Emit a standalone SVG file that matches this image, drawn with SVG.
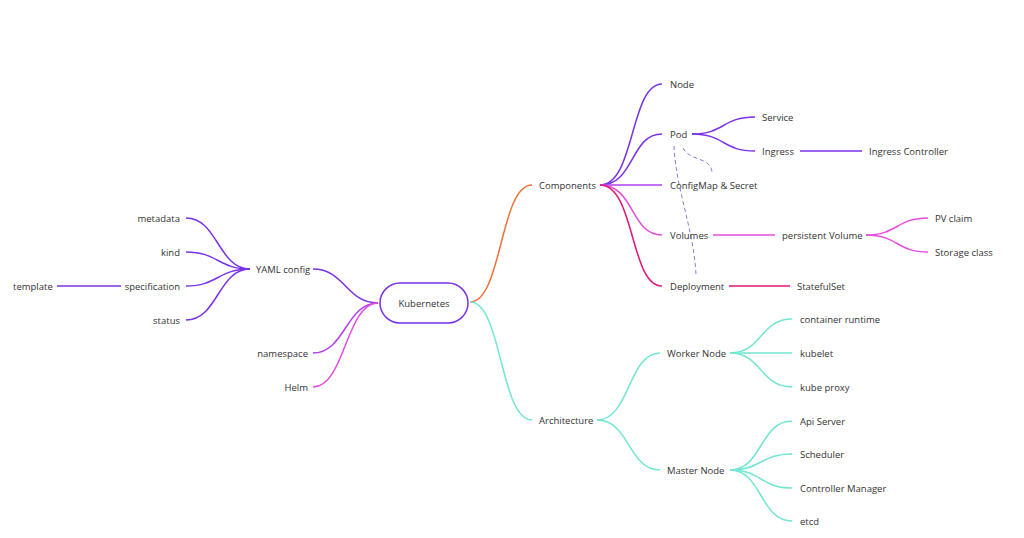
<svg xmlns="http://www.w3.org/2000/svg" width="1024" height="538" viewBox="0 0 1024 538">
<style>
text{font-family:"Open Sans","Noto Sans",sans-serif;font-size:9.5px;fill:#333;dominant-baseline:central}
.e{text-anchor:end}
path,line{fill:none;stroke-width:1.5}
.p{stroke:#7b32e8}.m{stroke:#b23ff0}.k{stroke:#e64ce0}.r{stroke:#e0157a}.o{stroke:#f0703c}.t{stroke:#72e6d2}
.d{stroke:#8878d8;stroke-width:1;stroke-dasharray:4 3}
</style>
<rect width="1024" height="538" fill="#fff"/>
<g id="connectors">
<path class="o" d="M470,302 C502,302 500,185 532,185"/>
<path class="t" d="M470,302 C502,302 500,420 532,420"/>
<path class="p" d="M600,185 C635,185 630,84 662,84"/>
<path class="p" d="M600,185 C635,185 630,134 662,134"/>
<path class="m" d="M600,185 L662,185"/>
<path class="k" d="M600,185 C635,185 630,235 662,235"/>
<path class="r" d="M600,185 C635,185 630,286 662,286"/>
<path class="p" d="M692,134 C725,134 722,117 755,117"/>
<path class="p" d="M692,134 C725,134 722,151 755,151"/>
<line class="p" x1="800" y1="151" x2="862" y2="151"/>
<line class="k" x1="713" y1="235" x2="775" y2="235"/>
<path class="k" d="M866,235 C898,235 896,218 928,218"/>
<path class="k" d="M866,235 C898,235 896,252 928,252"/>
<line class="r" x1="729" y1="286" x2="790" y2="286"/>
<path class="d" d="M674,146 C676,190 694,230 696,275"/>
<path class="d" d="M683,148 C690,162 710,156 712,172"/>
<path class="t" d="M597,420 C630,420 628,353 660,353"/>
<path class="t" d="M597,420 C630,420 628,470 660,470"/>
<path class="t" d="M730,353 C762,353 760,319 792,319"/>
<path class="t" d="M730,353 L792,353"/>
<path class="t" d="M730,353 C762,353 760,387 792,387"/>
<path class="t" d="M730,470 C762,470 760,421 792,421"/>
<path class="t" d="M730,470 C762,470 760,454 792,454"/>
<path class="t" d="M730,470 C762,470 760,488 792,488"/>
<path class="t" d="M730,470 C762,470 760,521 792,521"/>
<path class="p" d="M378,303 C346,303 345,269 313,269"/>
<path class="m" d="M378,303 C346,303 345,353 313,353"/>
<path class="k" d="M378,303 C346,303 345,387 313,387"/>
<path class="p" d="M250,269 C218,269 218,218 186,218"/>
<path class="p" d="M250,269 C218,269 218,252 186,252"/>
<path class="p" d="M250,269 C218,269 218,286 186,286"/>
<path class="p" d="M250,269 C218,269 218,320 186,320"/>
<line class="p" x1="57" y1="286" x2="121" y2="286"/>
</g>
<g id="kubernetes"><rect x="380" y="283" width="88" height="40" rx="20" fill="#fff" stroke="#7b32e8" stroke-width="1.5"/><text x="424" y="303" text-anchor="middle">Kubernetes</text></g>
<g id="components"><text x="539" y="185">Components</text></g>
<g id="node"><text x="670" y="84">Node</text></g>
<g id="pod"><text x="670" y="134">Pod</text></g>
<g id="configmap"><text x="670" y="185">ConfigMap &amp; Secret</text></g>
<g id="volumes"><text x="670" y="235">Volumes</text></g>
<g id="deployment"><text x="670" y="286">Deployment</text></g>
<g id="service"><text x="762" y="117">Service</text></g>
<g id="ingress"><text x="762" y="151">Ingress</text></g>
<g id="ingress-controller"><text x="869" y="151">Ingress Controller</text></g>
<g id="pv"><text x="782" y="235">persistent Volume</text></g>
<g id="pvc"><text x="935" y="218">PV claim</text></g>
<g id="sc"><text x="935" y="252">Storage class</text></g>
<g id="statefulset"><text x="797" y="286">StatefulSet</text></g>
<g id="architecture"><text x="539" y="420">Architecture</text></g>
<g id="worker"><text x="667" y="353">Worker Node</text></g>
<g id="master"><text x="667" y="470">Master Node</text></g>
<g id="cr"><text x="800" y="319">container runtime</text></g>
<g id="kubelet"><text x="800" y="353">kubelet</text></g>
<g id="kp"><text x="800" y="387">kube proxy</text></g>
<g id="api"><text x="800" y="421">Api Server</text></g>
<g id="sched"><text x="800" y="454">Scheduler</text></g>
<g id="cm"><text x="800" y="488">Controller Manager</text></g>
<g id="etcd"><text x="800" y="521">etcd</text></g>
<g id="yaml"><text x="256" y="269">YAML config</text></g>
<g id="namespace"><text class="e" x="308" y="353">namespace</text></g>
<g id="helm"><text class="e" x="308" y="387">Helm</text></g>
<g id="metadata"><text class="e" x="180" y="218">metadata</text></g>
<g id="kind"><text class="e" x="180" y="252">kind</text></g>
<g id="spec"><text class="e" x="180" y="286">specification</text></g>
<g id="status"><text class="e" x="180" y="320">status</text></g>
<g id="template"><text x="13" y="286">template</text></g>
</svg>
